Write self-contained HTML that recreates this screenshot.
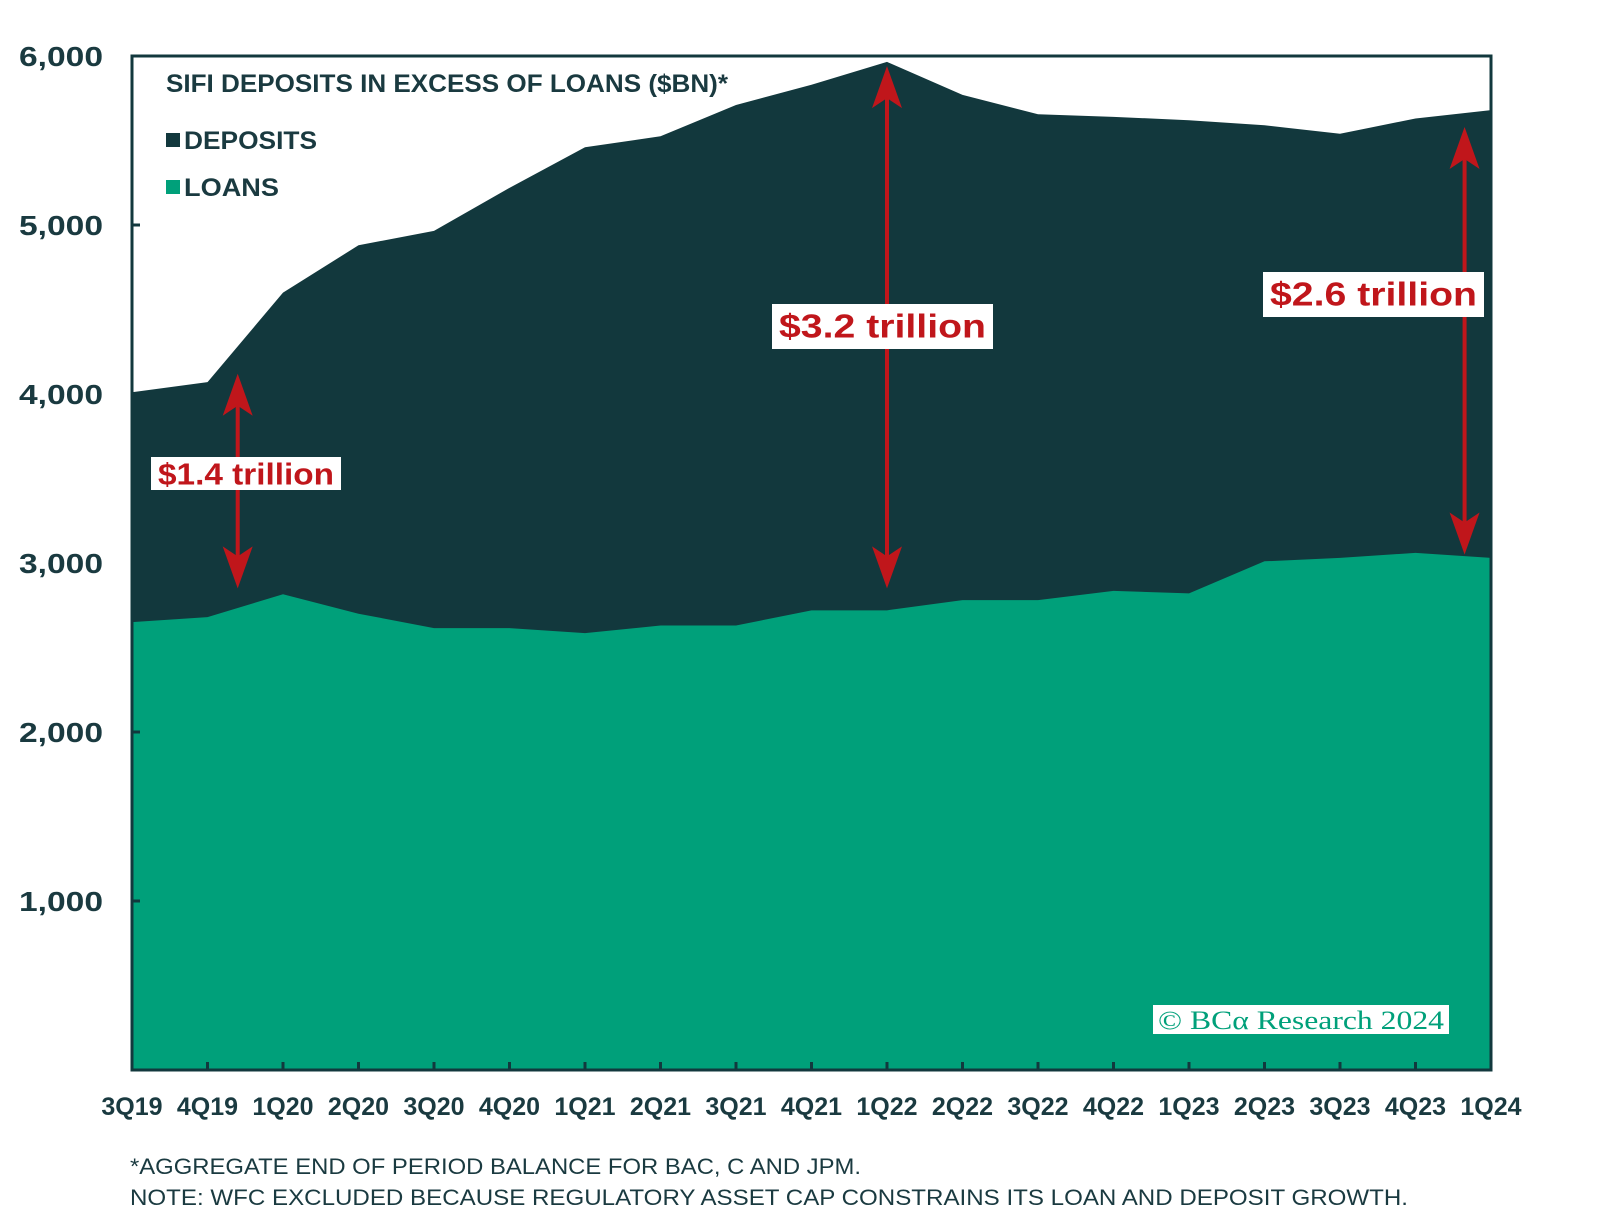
<!DOCTYPE html>
<html><head><meta charset="utf-8"><style>
html,body{margin:0;padding:0;background:#fff;}
svg{display:block;font-family:"Liberation Sans",sans-serif;}
</style></head><body>
<svg id="chart" width="1600" height="1214" viewBox="0 0 1600 1214">
<g id="areas"></g>
<rect x="132" y="56" width="1359" height="1014" fill="none" stroke="#12383d" stroke-width="3"/>
<g id="ticks"></g>
<text x="166" y="92" font-size="25" font-weight="bold" fill="#1a3a40" textLength="562" lengthAdjust="spacingAndGlyphs">SIFI DEPOSITS IN EXCESS OF LOANS ($BN)*</text>
<rect x="166" y="133" width="14" height="14" fill="#12383d"/>
<text x="184" y="149" font-size="25" font-weight="bold" fill="#1a3a40" textLength="133" lengthAdjust="spacingAndGlyphs">DEPOSITS</text>
<rect x="166" y="180" width="14" height="14" fill="#00a07a"/>
<text x="184" y="196" font-size="25" font-weight="bold" fill="#1a3a40" textLength="95" lengthAdjust="spacingAndGlyphs">LOANS</text>
<g id="annot"></g>
<rect x="1153" y="1005" width="296" height="29" fill="#fff"/>
<text x="1158" y="1029" font-family="Liberation Serif,serif" font-size="26" fill="#00a07a" textLength="286" lengthAdjust="spacingAndGlyphs">© BCα Research 2024</text>
<text x="130" y="1174" font-size="22" font-weight="500" fill="#1a3a40" textLength="731" lengthAdjust="spacingAndGlyphs">*AGGREGATE END OF PERIOD BALANCE FOR BAC, C AND JPM.</text>
<text x="130" y="1205" font-size="22" font-weight="500" fill="#1a3a40" textLength="1278" lengthAdjust="spacingAndGlyphs">NOTE: WFC EXCLUDED BECAUSE REGULATORY ASSET CAP CONSTRAINS ITS LOAN AND DEPOSIT GROWTH.</text>
</svg>
<script>
const categories=["3Q19","4Q19","1Q20","2Q20","3Q20","4Q20","1Q21","2Q21","3Q21","4Q21","1Q22","2Q22","3Q22","4Q22","1Q23","2Q23","3Q23","4Q23","1Q24"];
const deposits=[4010,4070,4600,4880,4965,5220,5460,5525,5710,5830,5965,5770,5655,5640,5620,5590,5540,5630,5680];
const loans=[2650,2680,2815,2700,2615,2615,2585,2630,2630,2720,2720,2780,2780,2835,2820,3010,3030,3060,3030];
const yTicks=[1000,2000,3000,4000,5000,6000];
const yTickLabels=["1,000","2,000","3,000","4,000","5,000","6,000"];
const annotations=[{i:1.4,lo:2850,hi:4120,label:"$1.4 trillion"},{i:10,lo:2850,hi:5940,label:"$3.2 trillion"},{i:17.65,lo:3050,hi:5580,label:"$2.6 trillion"}];
const NS="http://www.w3.org/2000/svg";
const X0=132,X1=1491,Y0=1070,Y1=56,VMAX=6000;
function xs(i){return X0+(X1-X0)*i/(categories.length-1);}
function ys(v){return Y0-(Y0-Y1)*v/VMAX;}
function mk(t,a,p){const e=document.createElementNS(NS,t);for(const k in a)e.setAttribute(k,a[k]);(p||document.getElementById('chart')).appendChild(e);return e;}
const areas=document.getElementById('areas');
let d="M"+xs(0)+","+Y0;deposits.forEach((v,i)=>d+="L"+xs(i)+","+ys(v));d+="L"+xs(deposits.length-1)+","+Y0+"Z";
const pd=mk('path',{d:d,fill:'#12383d'},areas);


let l="M"+xs(0)+","+Y0;loans.forEach((v,i)=>l+="L"+xs(i)+","+ys(v));l+="L"+xs(loans.length-1)+","+Y0+"Z";
const pl=mk('path',{d:l,fill:'#00a07a'},areas);


const tk=document.getElementById('ticks');
categories.forEach((c,i)=>{
  if(i>0&&i<categories.length-1){const t=mk('line',{x1:xs(i),x2:xs(i),y1:Y0,y2:Y0-8,stroke:'#12383d','stroke-width':3},tk);
  
  }
  const tx=mk('text',{x:xs(i),y:1115,'text-anchor':'middle','font-size':25,'font-weight':'bold',fill:'#1a3a40'},tk);
  
  
  tx.textContent=c;
});
yTicks.forEach((v,i)=>{
  const t=mk('line',{x1:X0,x2:X0+8,y1:ys(v),y2:ys(v),stroke:'#12383d','stroke-width':3},tk);
  
  
  const tx=mk('text',{x:19,y:ys(v)+10,'font-size':28,'font-weight':'bold',fill:'#1a3a40',textLength:84,lengthAdjust:'spacingAndGlyphs'},tk);
  
  
  tx.textContent=yTickLabels[i];
});
const an=document.getElementById('annot');
const boxes=[[151,457,190,33],[772,304,221,45],[1263,272,221,45]];
annotations.forEach((a,k)=>{
  const x=xs(a.i),yt=ys(a.hi),yb=ys(a.lo);
  const g=mk('g',{},an);
  
  
  mk('line',{x1:x,x2:x,y1:yt+30,y2:yb-30,stroke:'#c0161b','stroke-width':4},g);
  mk('polygon',{points:`${x},${yt} ${x-15},${yt+42} ${x},${yt+32} ${x+15},${yt+42}`,fill:'#c0161b'},g);
  mk('polygon',{points:`${x},${yb} ${x-15},${yb-42} ${x},${yb-32} ${x+15},${yb-42}`,fill:'#c0161b'},g);
  const b=boxes[k];
  const r=mk('rect',{x:b[0],y:b[1],width:b[2],height:b[3],fill:'#fff'},an);
  
  
  const t=mk('text',{x:b[0]+b[2]/2,y:b[1]+b[3]/2+11,'text-anchor':'middle','font-size':k==0?31:33,'font-weight':'bold',fill:'#c0161b',textLength:b[2]-14,lengthAdjust:'spacingAndGlyphs'},an);
  
  
  t.textContent=a.label;
});
</script>
</body></html>
